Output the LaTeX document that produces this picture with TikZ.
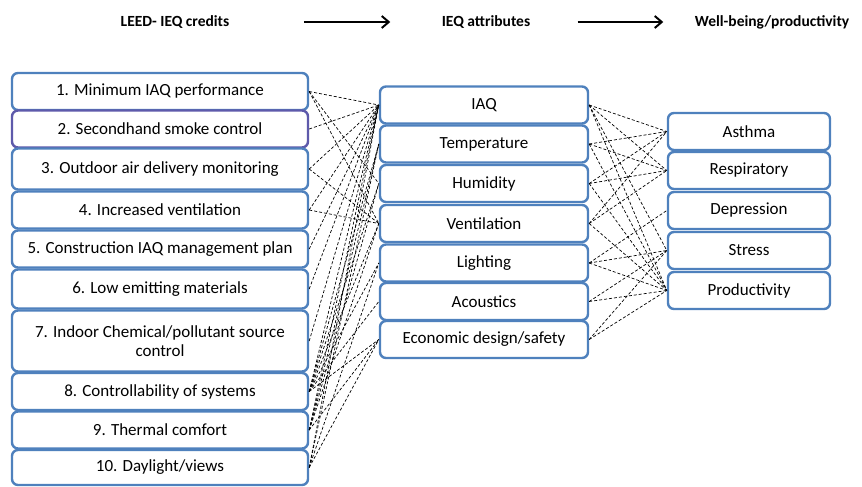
\documentclass[tikz,border=0pt]{standalone}
\usepackage{fontspec}
\setmainfont{Carlito}
\usetikzlibrary{arrows.meta}
\definecolor{boxblue}{RGB}{79,129,189}
\tikzset{
  box/.style={draw=boxblue, line width=2.4pt, rounded corners=6pt, fill=white,
    inner sep=0pt, align=center, font=\fontsize{17}{19}\selectfont},
  credit/.style={box, minimum width=296pt, minimum height=#1},
  credit/.default=37pt,
  attr/.style={box, minimum width=208pt, minimum height=37pt},
  effect/.style={box, minimum width=162pt, minimum height=37pt},
  head/.style={font=\bfseries\fontsize{15.5}{18}\selectfont},
  flow/.style={line width=2pt, -{Straight Barb[length=7pt,width=12pt]}},
  link/.style={line width=0.7pt, densely dashed}
}
\begin{document}
\begin{tikzpicture}[x=1pt,y=-1pt]
\useasboundingbox (0,0) rectangle (862,487);
% headings
\node[head] (h1) at (175,22) {LEED- IEQ credits};
\node[head] (h2) at (486,22) {IEQ attributes};
\node[head] (h3) at (772,22) {Well-being/productivity};
\draw[flow, shorten <=71pt, shorten >=48pt] (h1.east) -- (h2.west);
\draw[flow, shorten <=44pt, shorten >=28pt] (h2.east) -- (h3.west);
% credits
\node[credit] (c1) at (160,91.5) {1. Minimum IAQ performance};
\node[credit, draw=boxblue!70!violet] (c2) at (160,129) {2. Secondhand smoke control};
\node[credit=41pt] (c3) at (160,169) {3. Outdoor air delivery monitoring};
\node[credit] (c4) at (160,210) {4. Increased ventilation};
\node[credit] (c5) at (160,249) {5. Construction IAQ management plan};
\node[credit=39pt] (c6) at (160,289) {6. Low emitting materials};
\node[credit=61pt] (c7) at (160,341) {7. Indoor Chemical/pollutant source\\control};
\node[credit] (c8) at (160,391.5) {8. Controllability of systems};
\node[credit] (c9) at (160,430) {9. Thermal comfort};
\node[credit=35pt] (c10) at (160,467.5) {10. Daylight/views};
% attributes
\node[attr] (a1) at (484,105) {IAQ};
\node[attr] (a2) at (484,144) {Temperature};
\node[attr] (a3) at (484,183.5) {Humidity};
\node[attr] (a4) at (484,223.5) {Ventilation};
\node[attr] (a5) at (484,263) {Lighting};
\node[attr] (a6) at (484,301.5) {Acoustics};
\node[attr] (a7) at (484,339.5) {Economic design/safety};
% well-being
\node[effect] (w1) at (749,131.5) {Asthma};
\node[effect] (w2) at (749,170.5) {Respiratory};
\node[effect] (w3) at (749,210.5) {Depression};
\node[effect] (w4) at (749,250.5) {Stress};
\node[effect] (w5) at (749,290.5) {Productivity};
% links
\foreach \i/\j in {1/1,1/3,1/4,2/1,3/1,3/4,4/1,4/4,5/1,6/1,7/1,
                   8/1,8/2,8/3,8/4,8/5,8/6,8/7,9/1,9/2,9/3,9/4,9/7,
                   10/1,10/2,10/5,10/7}
  \draw[link] (c\i.east) -- (a\j.west);
\foreach \i/\j in {1/1,1/2,1/4,1/5,2/1,2/2,2/5,3/1,3/2,3/5,4/1,4/2,4/5,
                   5/3,5/4,5/5,6/4,6/5,7/4,7/5}
  \draw[link] (a\i.east) -- (w\j.west);
\end{tikzpicture}
\end{document}
